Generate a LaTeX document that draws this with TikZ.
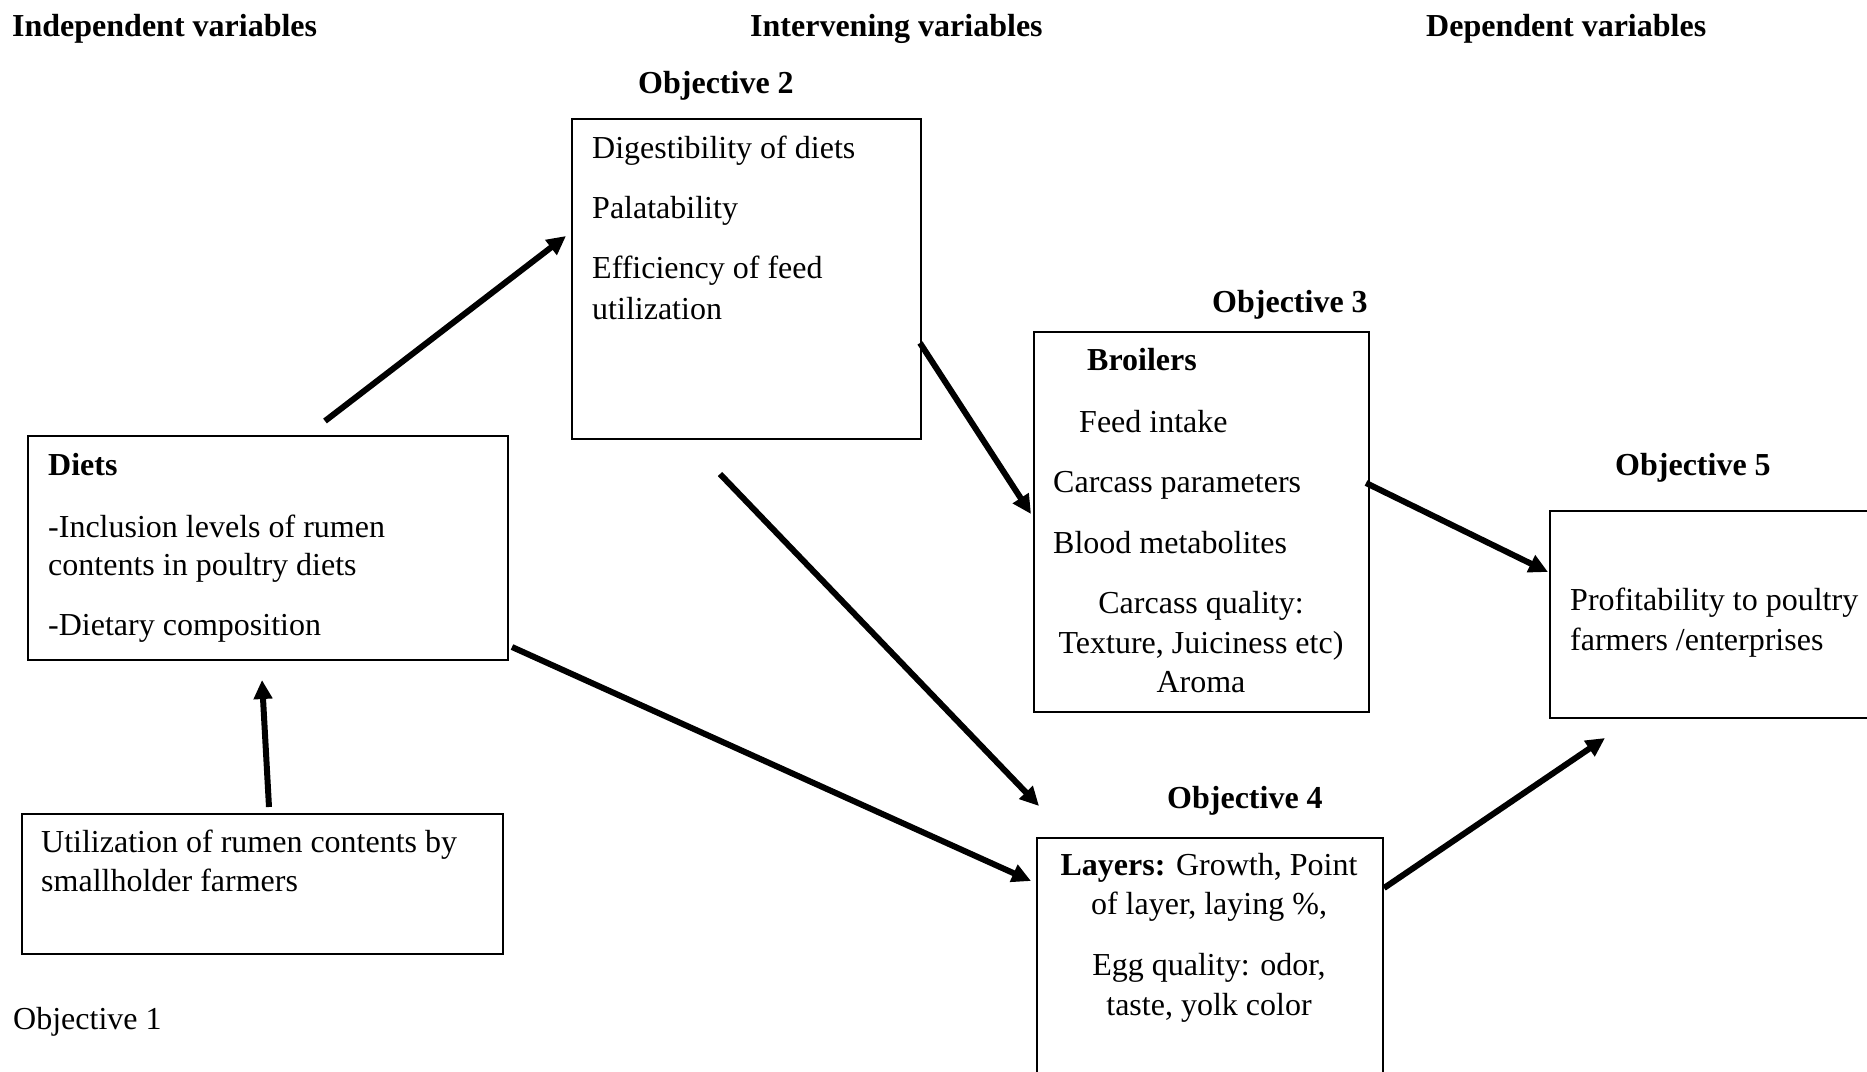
\documentclass[tikz,border=0pt]{standalone}
\usepackage{fontspec}
\setmainfont{Liberation Serif}
\usetikzlibrary{arrows.meta,positioning}
\tikzset{
    box/.style={draw, line width=1.6pt, anchor=north west, inner sep=0pt},
    txt/.style={anchor=base west, inner sep=0pt},
    ctxt/.style={anchor=base, inner sep=0pt},
    hd/.style={txt, font=\fontsize{32}{40}\selectfont\bfseries},
    arr/.style={line width=6pt, -{Triangle[length=19pt,width=18pt]}}
}

\begin{document}
\begin{tikzpicture}[x=1pt, y=-1pt, every node/.style={font=\fontsize{32}{40}\selectfont}]
    \clip (0, 0) rectangle (1867, 1071);
    % column headers
    \node[hd] (indep) at (12, 36) {Independent variables};
    \node[hd] (interv) at (750, 36) {Intervening variables};
    \node[hd] (dep) at (1426, 36) {Dependent variables};
    % objective labels
    \node[hd] (o2) at (638, 93) {Objective 2};
    \node[hd] (o3) at (1212, 312) {Objective 3};
    \node[hd] (o4) at (1167, 808) {Objective 4};
    \node[hd] (o5) at (1615, 475) {Objective 5};
    \node[txt] (o1) at (13, 1029) {Objective 1};
    % boxes
    \node[box, minimum width=480pt, minimum height=224pt] (diets) at (27, 435) {};
    \node[box, minimum width=481pt, minimum height=140pt] (util) at (21, 813) {};
    \node[box, minimum width=349pt, minimum height=320pt] (obj2box) at (571, 118) {};
    \node[box, minimum width=335pt, minimum height=380pt] (obj3box) at (1033, 331) {};
    \node[box, minimum width=346pt, minimum height=260pt] (obj4box) at (1036, 837) {};
    \node[box, minimum width=340pt, minimum height=207pt] (obj5box) at (1549, 510) {};
    % diets
    \node[txt, font=\fontsize{32}{40}\selectfont\bfseries] (dt1) at (48, 475) {Diets};
    \node[txt] (dt2) at (48, 537) {-Inclusion levels of rumen};
    \node[txt] (dt3) at (48, 575) {contents in poultry diets};
    \node[txt] (dt4) at (48, 635) {-Dietary composition};
    % utilization
    \node[txt] (ut1) at (41, 852) {Utilization of rumen contents by};
    \node[txt] (ut2) at (41, 891) {smallholder farmers};
    % objective 2
    \node[txt] (dg1) at (592, 158) {Digestibility of diets};
    \node[txt] (dg2) at (592, 218) {Palatability};
    \node[txt] (dg3) at (592, 278) {Efficiency of feed};
    \node[txt] (dg4) at (592, 319) {utilization};
    % objective 3
    \node[txt, font=\fontsize{32}{40}\selectfont\bfseries] (br1) at (1087, 370) {Broilers};
    \node[txt] (br2) at (1079, 432) {Feed intake};
    \node[txt] (br3) at (1053, 492) {Carcass parameters};
    \node[txt] (br4) at (1053, 553) {Blood metabolites};
    \node[ctxt] (br5) at (1201, 613) {Carcass quality:};
    \node[ctxt] (br6) at (1201, 653) {Texture, Juiciness etc)};
    \node[ctxt] (br7) at (1201, 692) {Aroma};
    % objective 4
    \node[ctxt] (ly1) at (1209, 875) {\textbf{Layers:} Growth, Point};
    \node[ctxt] (ly2) at (1209, 914) {of layer, laying \%,};
    \node[ctxt] (ly3) at (1209, 975) {Egg quality: odor,};
    \node[ctxt] (ly4) at (1209, 1015) {taste, yolk color};
    % objective 5
    \node[txt] (pf1) at (1570, 610) {Profitability to poultry};
    \node[txt] (pf2) at (1570, 650) {farmers /enterprises};
    % arrow ends
    \coordinate (a1s) at (325, 421);
    \coordinate (a1e) at (566, 236);
    \coordinate (a2s) at (269, 807);
    \coordinate (a2e) at (262, 680);
    \coordinate (a3s) at (512, 647);
    \coordinate (a3e) at (1031, 881);
    \coordinate (a4s) at (720, 474);
    \coordinate (a4e) at (1039, 806);
    \coordinate (a5s) at (920, 343);
    \coordinate (a5e) at (1031, 514);
    \coordinate (a6s) at (1366, 483);
    \coordinate (a6e) at (1548, 572);
    \coordinate (a7s) at (1384, 888);
    \coordinate (a7e) at (1605, 738);
    \draw[arr] (a1s) -- (a1e);
    \draw[arr] (a2s) -- (a2e);
    \draw[arr] (a3s) -- (a3e);
    \draw[arr] (a4s) -- (a4e);
    \draw[arr] (a5s) -- (a5e);
    \draw[arr] (a6s) -- (a6e);
    \draw[arr] (a7s) -- (a7e);
\end{tikzpicture}
\end{document}
